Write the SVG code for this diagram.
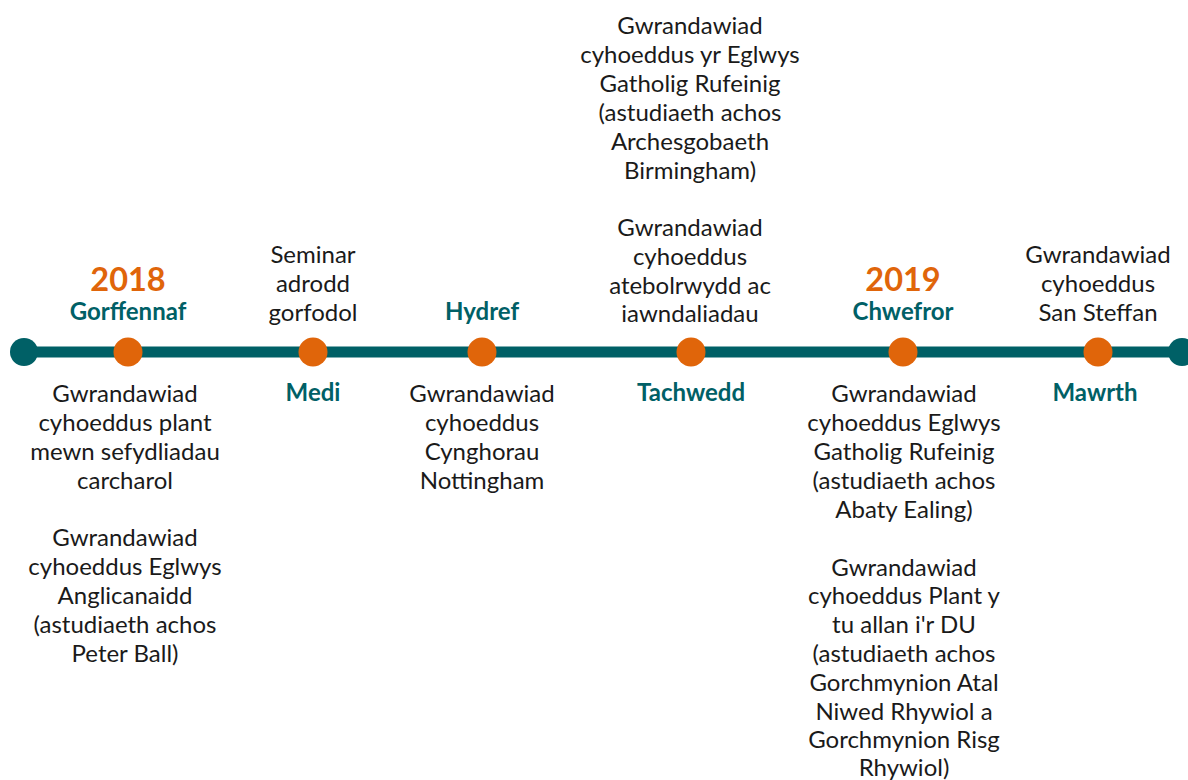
<svg xmlns="http://www.w3.org/2000/svg" width="1188" height="780" viewBox="0 0 1188 780">
<style>
text{font-family:Lato,"Open Sans","Liberation Sans",sans-serif;text-anchor:middle}
.b{font-size:24px;fill:#1a1a1a}
.m{font-size:24px;font-weight:bold;fill:#006066}
.y{font-size:32.5px;font-weight:bold;fill:#E0650A}
.dot{fill:#E0650A}
.end{fill:#006066}
</style>
<rect width="1188" height="780" fill="#fff"/>
<g id="connectors">
<line x1="24" y1="352" x2="1181" y2="352" stroke="#006066" stroke-width="11"/>
</g>
<g id="start"><circle class="end" cx="24" cy="352" r="14"/></g>
<g id="end"><circle class="end" cx="1182" cy="352" r="14"/></g>
<g id="jul2018">
<circle class="dot" cx="128" cy="352" r="14.5"/>
<text class="y" x="128" y="291">2018</text>
<text class="m" x="128" y="320">Gorffennaf</text>
<text class="b" x="126"><tspan x="125" y="402">Gwrandawiad</tspan><tspan x="125" y="431">cyhoeddus plant</tspan><tspan x="125" y="460">mewn sefydliadau</tspan><tspan x="125" y="489">carcharol</tspan><tspan x="125" y="546">Gwrandawiad</tspan><tspan x="125" y="575">cyhoeddus Eglwys</tspan><tspan x="125" y="604">Anglicanaidd</tspan><tspan x="125" y="633">(astudiaeth achos</tspan><tspan x="125" y="662">Peter Ball)</tspan></text>
</g>
<g id="sep2018">
<circle class="dot" cx="313" cy="352" r="14.5"/>
<text class="b"><tspan x="313" y="263">Seminar</tspan><tspan x="313" y="292">adrodd</tspan><tspan x="313" y="321">gorfodol</tspan></text>
<text class="m" x="313" y="401">Medi</text>
</g>
<g id="oct2018">
<circle class="dot" cx="482" cy="352" r="14.5"/>
<text class="m" x="482" y="320">Hydref</text>
<text class="b"><tspan x="482" y="402">Gwrandawiad</tspan><tspan x="482" y="431">cyhoeddus</tspan><tspan x="482" y="460">Cynghorau</tspan><tspan x="482" y="489">Nottingham</tspan></text>
</g>
<g id="nov2018">
<circle class="dot" cx="691" cy="352" r="14.5"/>
<text class="b"><tspan x="690" y="34">Gwrandawiad</tspan><tspan x="690" y="63">cyhoeddus yr Eglwys</tspan><tspan x="690" y="92">Gatholig Rufeinig</tspan><tspan x="690" y="121">(astudiaeth achos</tspan><tspan x="690" y="150">Archesgobaeth</tspan><tspan x="690" y="179">Birmingham)</tspan><tspan x="690" y="236">Gwrandawiad</tspan><tspan x="690" y="265">cyhoeddus</tspan><tspan x="690" y="294">atebolrwydd ac</tspan><tspan x="690" y="322">iawndaliadau</tspan></text>
<text class="m" x="691" y="401">Tachwedd</text>
</g>
<g id="feb2019">
<circle class="dot" cx="903" cy="352" r="14.5"/>
<text class="y" x="903" y="291">2019</text>
<text class="m" x="903" y="320">Chwefror</text>
<text class="b"><tspan x="904" y="402">Gwrandawiad</tspan><tspan x="904" y="431">cyhoeddus Eglwys</tspan><tspan x="904" y="460">Gatholig Rufeinig</tspan><tspan x="904" y="489">(astudiaeth achos</tspan><tspan x="904" y="518">Abaty Ealing)</tspan><tspan x="904" y="576">Gwrandawiad</tspan><tspan x="904" y="604">cyhoeddus Plant y</tspan><tspan x="904" y="633">tu allan i'r DU</tspan><tspan x="904" y="662">(astudiaeth achos</tspan><tspan x="904" y="691">Gorchmynion Atal</tspan><tspan x="904" y="720">Niwed Rhywiol a</tspan><tspan x="904" y="748">Gorchmynion Risg</tspan><tspan x="904" y="776">Rhywiol)</tspan></text>
</g>
<g id="mar2019">
<circle class="dot" cx="1098" cy="352" r="14.5"/>
<text class="b"><tspan x="1098" y="263">Gwrandawiad</tspan><tspan x="1098" y="292">cyhoeddus</tspan><tspan x="1098" y="321">San Steffan</tspan></text>
<text class="m" x="1095" y="401">Mawrth</text>
</g>
</svg>
